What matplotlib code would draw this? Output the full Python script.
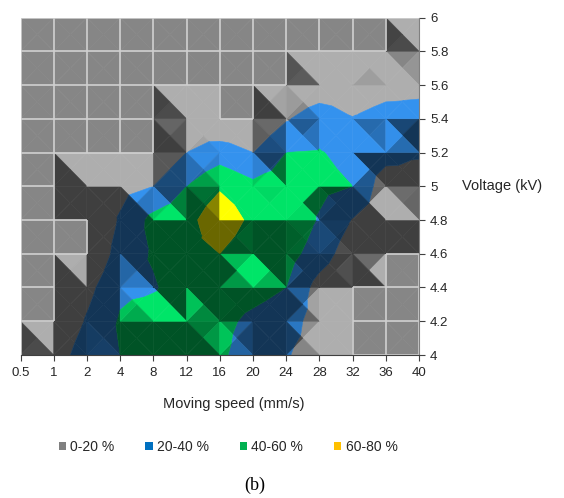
import numpy as np
import matplotlib.pyplot as plt
from matplotlib.collections import PolyCollection, LineCollection
from matplotlib.patches import Patch

plt.rcParams['font.family'] = ['Liberation Sans', 'DejaVu Sans']

# moving speed categories (mm/s) and voltage levels (kV)
speeds = ["0.5", "1", "2", "4", "8", "12", "16", "20", "24", "28", "32", "36", "40"]
voltages = [4.0, 4.2, 4.4, 4.6, 4.8, 5.0, 5.2, 5.4, 5.6, 5.8, 6.0]

# value (%) at each speed, one list per voltage
v40 = [0, 8, 32, 40, 45, 45, 44, 28, 21, 14, 0, 0, 0]
v42 = [0, 0, 22, 42, 50, 50, 46, 35, 28, 12, 0, 0, 0]
v44 = [0, 0, 14, 36, 38, 50, 52, 48, 40, 12, 0, 0, 0]
v46 = [0, 0, 0, 28, 42, 54, 60, 45, 48, 30, 8, 0, 0]
v48 = [0, 0, 0, 22, 46, 52, 76, 54, 57, 38, 19, 12, 12]
v50 = [0, 0, 10, 14, 20, 40, 57, 45, 50, 45, 40, 8, 12]
v52 = [0, 0, 0, 0, 0, 20, 30, 20, 40, 41, 35, 28, 22]
v54 = [0, 0, 0, 0, 0, 8, 0, 0, 18, 32, 21, 28, 27]
v56 = [0, 0, 0, 0, 0, 0, 0, 0, 0, 6, 6, 12, 15]
v58 = [0, 0, 0, 0, 0, 0, 0, 0, 0, 0, 0, 0, 8]
v60 = [0, 0, 0, 0, 0, 0, 0, 0, 0, 0, 0, 0, 0]

levels = [0, 20, 40, 60, 80]
band_labels = ["0-20 %", "20-40 %", "40-60 %", "60-80 %"]
band_base = [(134, 134, 134), (40, 112, 183), (0, 176, 80), (225, 220, 0)]
legend_colors = ["#808080", "#0070C0", "#00B050", "#FFC000"]

Z = np.array([v40, v42, v44, v46, v48, v50, v52, v54, v56, v58, v60], float)
ny, nx = Z.shape
Y = np.array(voltages)
dy = Y[1] - Y[0]

# light from the upper right, low elevation
zscale = 0.12
elev = np.radians(30)
az = np.array([0.53, 0.85]) / np.hypot(0.53, 0.85)
L = np.array([np.cos(elev) * az[0], np.cos(elev) * az[1], np.sin(elev)])


def cut(pts, level, above):
    out = []
    n = len(pts)
    for k in range(n):
        p, q = pts[k], pts[(k + 1) % n]
        pin = p[2] >= level if above else p[2] <= level
        qin = q[2] >= level if above else q[2] <= level
        if pin:
            out.append(p)
        if pin != qin:
            t = (level - p[2]) / (q[2] - p[2])
            out.append(tuple(p[m] + t * (q[m] - p[m]) for m in range(3)))
    return out


polys, cols = [], []
for j in range(ny - 1):
    for i in range(nx - 1):
        c = (i + 0.5, j + 0.5, Z[j:j + 2, i:i + 2].mean())
        bl = (i, j, Z[j, i]); br = (i + 1, j, Z[j, i + 1])
        tl = (i, j + 1, Z[j + 1, i]); tr = (i + 1, j + 1, Z[j + 1, i + 1])
        for a, b in [(tl, tr), (tr, br), (br, bl), (bl, tl)]:
            tri = [a, b, c]
            P = np.array([[p[0], p[1], p[2] * zscale] for p in tri])
            nrm = np.cross(P[1] - P[0], P[2] - P[0])
            nrm = nrm / np.linalg.norm(nrm)
            if nrm[2] < 0:
                nrm = -nrm
            f = np.clip(nrm @ L / L[2], 0.47, 1.3)
            for k in range(4):
                lo = -1e9 if k == 0 else levels[k]
                hi = 1e9 if k == 3 else levels[k + 1]
                piece = cut(cut(tri, lo, True), hi, False)
                if len(piece) < 3:
                    continue
                polys.append([(p[0], Y[0] + p[1] * dy) for p in piece])
                rgb = np.clip(np.array(band_base[k]) * f, 0, 255) / 255
                cols.append(rgb)

fig = plt.figure(figsize=(5.64, 4.98), dpi=100)
ax = fig.add_axes([20.5 / 564, 1 - 355 / 498, (419 - 20.5) / 564, (355 - 17.5) / 498])
ax.add_collection(PolyCollection(polys, facecolors=cols, edgecolors=cols, linewidths=0.4))

# floor gridlines where the surface lies at zero
segs = []
for j in range(ny):
    for i in range(nx - 1):
        if Z[j, i] == 0 and Z[j, i + 1] == 0:
            segs.append([(i, Y[j]), (i + 1, Y[j])])
for j in range(ny - 1):
    for i in range(nx):
        if Z[j, i] == 0 and Z[j + 1, i] == 0:
            segs.append([(i, Y[j]), (i, Y[j + 1])])
ax.add_collection(LineCollection(segs, colors="#D0D0D0", linewidths=1.2))

ax.set_xlim(0, nx - 1)
ax.set_ylim(Y[0], Y[-1])
ax.set_xticks(range(nx))
ax.set_xticklabels(speeds)
ax.set_yticks(Y)
ax.set_yticklabels([f"{v:g}" for v in Y])
ax.yaxis.tick_right()
for s in ["left", "top"]:
    ax.spines[s].set_visible(False)
ax.spines["bottom"].set_color("#404040")
ax.spines["right"].set_color("#808080")
ax.tick_params(axis="both", labelsize=9.5, colors="#404040", labelcolor="#262626", length=4)
ax.tick_params(axis="x", pad=5)
ax.tick_params(axis="y", pad=4)

fig.text(462 / 564, 1 - 186 / 498, "Voltage (kV)", fontsize=10.5, color="#262626", va="center")
fig.text(234 / 564, 1 - 404 / 498, "Moving speed (mm/s)", fontsize=10.5, color="#262626",
         ha="center", va="center")

handles = [Patch(facecolor=c, edgecolor="none") for c in legend_colors]
fig.legend(handles, band_labels, loc="center", bbox_to_anchor=(228 / 564, 1 - 447 / 498), ncol=4,
           frameon=False, fontsize=10, handlelength=0.55, handleheight=0.55, handletextpad=0.3,
           columnspacing=2.2, labelcolor="#262626")

fig.text(255 / 564, 1 - 485 / 498, "(b)", fontsize=13, family="Liberation Serif",
         ha="center", va="center")

fig.savefig("out.png", dpi=100)
